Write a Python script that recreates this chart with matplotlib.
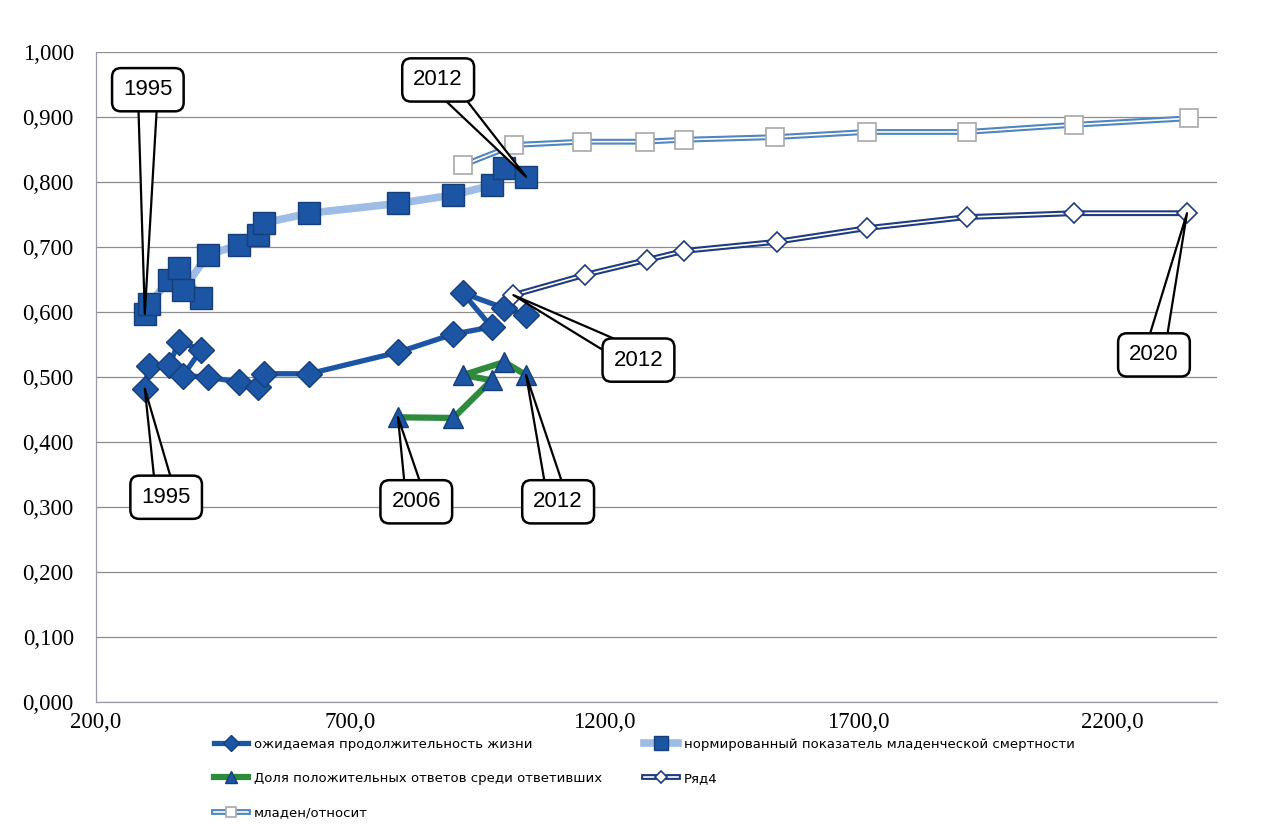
import numpy as np
import matplotlib
matplotlib.use('Agg')
import matplotlib.pyplot as plt
from matplotlib.legend_handler import HandlerTuple
from matplotlib.ticker import FuncFormatter, FixedLocator, MultipleLocator

# ожидаемая продолжительность жизни
life_x = [296, 304, 344, 363, 407, 371, 420, 481, 519, 531, 619, 794, 903, 978, 922, 1003, 1046]
life_y = [0.482, 0.517, 0.518, 0.554, 0.542, 0.502, 0.500, 0.492, 0.485, 0.505, 0.505,
          0.538, 0.566, 0.577, 0.629, 0.606, 0.595]

# нормированный показатель младенческой смертности
inf_x = [296, 304, 344, 363, 407, 371, 420, 481, 519, 531, 619, 794, 903, 978, 1003, 1046]
inf_y = [0.597, 0.612, 0.649, 0.667, 0.621, 0.634, 0.688, 0.703, 0.718, 0.737, 0.752,
         0.767, 0.780, 0.795, 0.822, 0.808]

# Доля положительных ответов среди ответивших
ans_x = [794, 903, 978, 922, 1003, 1046]
ans_y = [0.438, 0.437, 0.495, 0.503, 0.523, 0.503]

# Ряд4
r4_x = [1021, 1161, 1283, 1357, 1539, 1716, 1913, 2123, 2346]
r4_y = [0.626, 0.657, 0.680, 0.694, 0.708, 0.729, 0.746, 0.752, 0.752]

# младен/относит
rel_x = [922, 1023, 1155, 1279, 1356, 1535, 1716, 1913, 2123, 2350]
rel_y = [0.826, 0.857, 0.862, 0.862, 0.865, 0.869, 0.877, 0.877, 0.888, 0.898]

labels = ['ожидаемая продолжительность жизни',
          'нормированный показатель младенческой смертности',
          'Доля положительных ответов среди ответивших',
          'Ряд4',
          'младен/относит']

x_ticks = [200, 700, 1200, 1700, 2200]

# callouts: text, series, index of the point, box position (x, y)
callouts = [
    ('1995', 'inf', 0, (302, 0.942)),
    ('1995', 'life', 0, (338, 0.315)),
    ('2006', 'ans', 0, (830, 0.308)),
    ('2012', 'ans', 5, (1109, 0.308)),
    ('2012', 'inf', 15, (873, 0.957)),
    ('2012', 'r4', 0, (1267, 0.526)),
    ('2020', 'r4', 8, (2281, 0.534)),
]

navy = '#1F3C7E'
dark_blue = '#1C55A3'
light_blue = '#9DBDE6'
green = '#2E8B3C'
steel = '#4F86C0'

fig = plt.figure(figsize=(12.66, 8.32), dpi=100)
ax = fig.add_axes([96 / 1266, 1 - 702 / 832, (1217 - 96) / 1266, 650 / 832])

# младен/относит - double line
rel_o, = ax.plot(rel_x, rel_y, color=steel, lw=4.2, zorder=2, solid_joinstyle='round')
rel_i, = ax.plot(rel_x, rel_y, color='white', lw=1.2, zorder=2.1)
rel_m, = ax.plot(rel_x, rel_y, ls='none', marker='s', ms=13, mfc='white', mec='#A8A8A8',
                 mew=1.2, zorder=2.2)

# infant mortality
inf_l, = ax.plot(inf_x, inf_y, color=light_blue, lw=5.5, zorder=3, solid_joinstyle='round')
inf_m, = ax.plot(inf_x, inf_y, ls='none', marker='s', ms=16, mfc=dark_blue, mec='#163F7A',
                 mew=1.0, zorder=3.1)

# life expectancy
life_l, = ax.plot(life_x, life_y, color=dark_blue, lw=3.8, zorder=4, solid_joinstyle='round')
life_m, = ax.plot(life_x, life_y, ls='none', marker='D', ms=13, mfc=dark_blue, mec='#163F7A',
                  mew=1.0, zorder=4.1)

# share of positive answers
ans_l, = ax.plot(ans_x, ans_y, color=green, lw=4.5, zorder=5, solid_joinstyle='round')
ans_m, = ax.plot(ans_x, ans_y, ls='none', marker='^', ms=15, mfc=dark_blue, mec='#163F7A',
                 mew=1.0, zorder=5.1)

# Ряд4 - double line
r4_o, = ax.plot(r4_x, r4_y, color=navy, lw=4.2, zorder=6, solid_joinstyle='round')
r4_i, = ax.plot(r4_x, r4_y, color='white', lw=1.2, zorder=6.1)
r4_m, = ax.plot(r4_x, r4_y, ls='none', marker='D', ms=10, mfc='white', mec=navy,
                mew=1.2, zorder=6.2)

series = {'life': (life_x, life_y), 'inf': (inf_x, inf_y), 'ans': (ans_x, ans_y),
          'r4': (r4_x, r4_y), 'rel': (rel_x, rel_y)}

for txt, key, idx, pos in callouts:
    xs, ys = series[key]
    ax.annotate(txt, xy=(xs[idx], ys[idx]), xytext=pos, textcoords='data',
                ha='center', va='center', fontsize=16, family='Liberation Sans',
                bbox=dict(boxstyle='round,pad=0.5,rounding_size=0.4', fc='white',
                          ec='black', lw=1.8),
                arrowprops=dict(arrowstyle='wedge,tail_width=0.9', fc='white',
                                ec='black', lw=1.6, shrinkA=0, shrinkB=0,
                                patchA=None),
                zorder=10)

ax.set_xlim(200, 2405)
ax.set_ylim(0, 1.0)
ax.xaxis.set_major_locator(FixedLocator(x_ticks))
ax.yaxis.set_major_locator(MultipleLocator(0.1))
ax.xaxis.set_major_formatter(FuncFormatter(lambda v, p: f'{v:.1f}'.replace('.', ',')))
ax.yaxis.set_major_formatter(FuncFormatter(lambda v, p: f'{v:.3f}'.replace('.', ',')))
ax.grid(axis='y', color='#8C8C8C', lw=0.9)
ax.set_axisbelow(True)
for s in ['top', 'right']:
    ax.spines[s].set_visible(False)
ax.spines['left'].set_color('#9A9AAA')
ax.spines['bottom'].set_color('#9A9AAA')
ax.spines['left'].set_linewidth(0.9)
ax.spines['bottom'].set_linewidth(0.9)
ax.tick_params(length=0, labelsize=16.5, colors='black')
ax.tick_params(axis='y', pad=16)
ax.tick_params(axis='x', pad=7)
for t in ax.get_xticklabels() + ax.get_yticklabels():
    t.set_family('Liberation Serif')

handles = [(life_l, life_m), (inf_l, inf_m), (ans_l, ans_m),
           (r4_o, r4_i, r4_m), (rel_o, rel_i, rel_m)]
order = [0, 2, 4, 1, 3]
leg = fig.legend([handles[i] for i in order], [labels[i] for i in order],
                 handler_map={tuple: HandlerTuple(ndivide=1, pad=0)},
                 loc='upper left', bbox_to_anchor=(214 / 1266, 1 - 738 / 832),
                 ncol=2, frameon=False, fontsize=9.5, markerscale=0.6,
                 handlelength=2.6, handletextpad=0.4, labelspacing=1.6,
                 columnspacing=3.2, borderpad=0, borderaxespad=0)
for t in leg.get_texts():
    t.set_family('DejaVu Sans')

fig.savefig('out.png', dpi=100, facecolor='white')
